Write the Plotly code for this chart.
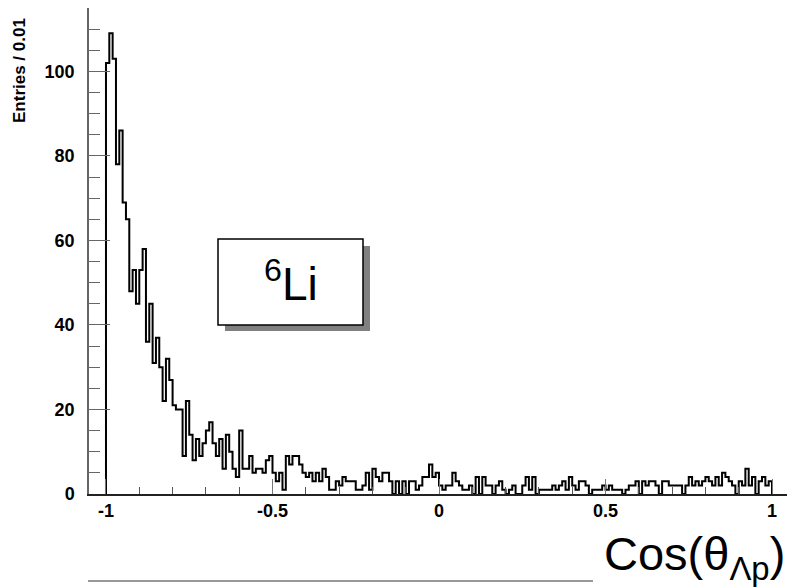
import numpy as np
import plotly.graph_objects as go

# ---- data ----
x_min, x_max = -1.0, 1.0
bin_width = 0.01
counts = (
    [102, 109, 103, 78, 86, 69, 65, 48, 53, 45, 53, 58, 36, 45, 31, 37, 30, 22, 32, 27,
     21, 20, 20, 9, 22, 14, 8, 13, 9, 12]
    + [15, 17, 12, 9, 13, 6, 14, 10, 6, 4, 15, 6, 6, 9, 5, 6, 6, 5, 8, 9, 5, 3, 5, 1, 9, 7, 9, 9]
    + [7, 5, 4, 5, 3, 5, 3, 6, 4, 1, 1, 3, 2, 4, 3, 3, 3, 1, 1, 2, 5, 1, 6, 4, 3, 5, 5, 3, 0, 3, 0, 3, 0]
    + [3, 3, 1, 2, 4, 4, 7, 4, 5, 2, 1, 2, 2, 5, 3, 2, 1, 1, 2, 0, 4, 0, 4, 2, 2, 0, 2, 3, 1, 0, 1, 2, 0, 0, 2]
    + [4, 1, 4, 0, 1, 1, 1, 1, 2, 1, 2, 3, 1, 4, 2, 1, 3, 3, 2, 0, 1, 1, 1, 2, 1]
    + [2, 1, 1, 1, 0, 1, 2, 2, 3, 0, 3, 2, 3, 3, 2, 0, 3, 3, 2, 2, 2, 2, 0, 2, 4,
       2, 3, 2, 3, 4, 3, 2, 4, 2, 5, 4, 3, 2, 0, 3, 2, 6, 2, 4, 0, 3, 4, 2, 3]
)
x_tick_vals = [-1, -0.5, 0, 0.5, 1]
x_tick_text = ["-1", "-0.5", "0", "0.5", "1"]
y_tick_vals = [0, 20, 40, 60, 80, 100]
y_tick_text = ["0", "20", "40", "60", "80", "100"]
y_title = "Entries / 0.01"
x_title = "Cos(θ<sub>Λp</sub>)"
label_text = "<sup>6</sup>Li"

# ---- build step outline ----
n = len(counts)
edges = x_min + bin_width * np.arange(n + 1)
xs = np.concatenate([[edges[0]], edges[:-1], [edges[-1], edges[-1]]])
ys = np.concatenate([[0], counts, [counts[-1], 0]])

fig = go.Figure()
fig.add_trace(go.Scatter(
    x=xs, y=ys, mode="lines", line=dict(color="black", width=2, shape="hv"),
    hoverinfo="skip", showlegend=False,
))

W, H = 787, 588
L, R, T, B = 89, 0, 8, 94
pw, ph = W - L - R, H - T - B

def px(xp):
    return (xp - L) / pw

def py(yp):
    return (H - B - yp) / ph

FAM = "Liberation Sans, Arial, sans-serif"
tick_font = dict(family=FAM, size=18, color="black", weight="bold")

fig.update_layout(
    width=W, height=H,
    margin=dict(l=L, r=R, t=T, b=B, pad=0),
    paper_bgcolor="white", plot_bgcolor="white",
    xaxis=dict(
        range=[-1.051, 1.045], showgrid=False, zeroline=False,
        showline=True, linecolor="#222", linewidth=1.5,
        ticks="inside", ticklen=15, tickwidth=1.2, tickcolor="#777",
        tickvals=x_tick_vals, ticktext=x_tick_text, tickfont=tick_font,
        minor=dict(ticks="inside", ticklen=7, dtick=0.1, tick0=0, tickcolor="#555", tickwidth=1),
    ),
    yaxis=dict(
        range=[0, 115], showgrid=False, zeroline=False,
        showline=True, linecolor="#666", linewidth=1.5,
        ticks="inside", ticklen=21, tickwidth=1.2, tickcolor="#666",
        tickvals=y_tick_vals, ticktext=y_tick_text, tickfont=tick_font,
        ticklabelstandoff=9,
        minor=dict(ticks="inside", ticklen=11, dtick=5, tick0=0, tickcolor="#666", tickwidth=1),
    ),
)

# shadow + box for the 6Li label
fig.add_shape(type="rect", xref="paper", yref="paper",
              x0=px(225), x1=px(370), y0=py(331), y1=py(246),
              fillcolor="#808080", line=dict(width=0), layer="above")
fig.add_shape(type="rect", xref="paper", yref="paper",
              x0=px(218), x1=px(363), y0=py(325), y1=py(239),
              fillcolor="white", line=dict(color="black", width=1.5), layer="above")
fig.add_annotation(xref="paper", yref="paper", x=px(291), y=py(281),
                   text=label_text, showarrow=False, xanchor="center", yanchor="middle",
                   font=dict(family=FAM, size=46, color="black"))

# axis titles
fig.add_annotation(xref="paper", yref="paper", x=px(19), y=py(71),
                   text=y_title, textangle=-90, showarrow=False,
                   xanchor="center", yanchor="middle",
                   font=dict(family=FAM, size=17, color="black", weight="bold"))
fig.add_annotation(xref="paper", yref="paper", x=px(787), y=py(557),
                   text=x_title, showarrow=False, xanchor="right", yanchor="middle",
                   font=dict(family=FAM, size=47, color="black"))

# grey line at the bottom
fig.add_shape(type="line", xref="paper", yref="paper",
              x0=px(88), x1=px(593), y0=py(581), y1=py(581),
              line=dict(color="#999", width=2))

fig.write_html("out.html")
